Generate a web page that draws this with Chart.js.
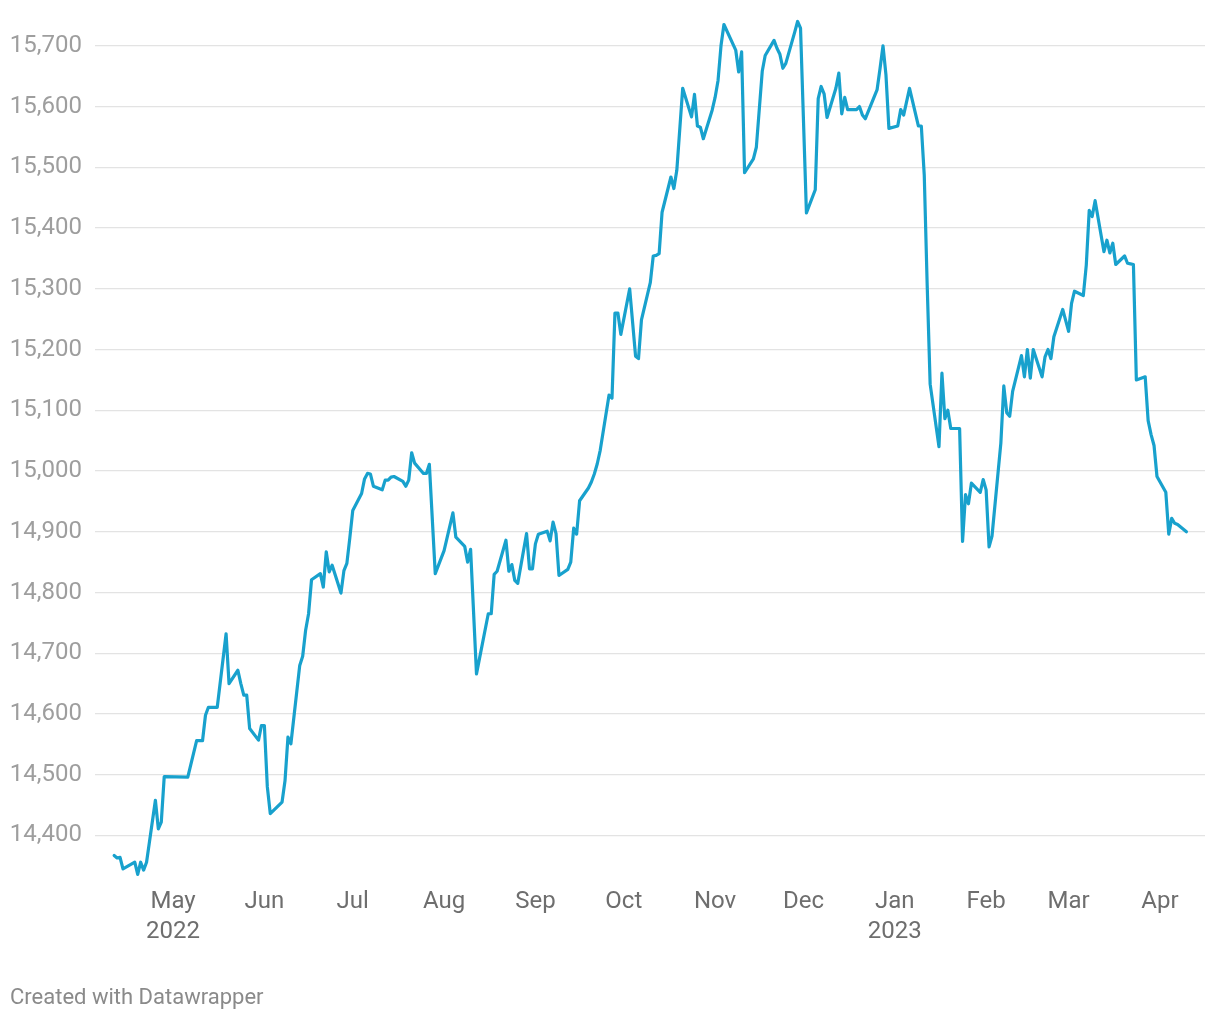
<!DOCTYPE html>
<html>
<head>
<meta charset="utf-8">
<script src="https://cdn.jsdelivr.net/npm/chart.js@4/dist/chart.umd.min.js"></script>
<style>
  html, body { margin: 0; padding: 0; background: #ffffff; }
  #wrap { position: relative; width: 1220px; height: 1020px; }
  #c { display: block; }
  #footer { position: absolute; left: 10px; top: 984px; font-family: Roboto, "Noto Sans", sans-serif; font-size: 22px; color: #8a8a8a; }
</style>
</head>
<body>
<div id="wrap">
  <canvas id="c" width="1220" height="1020"></canvas>
  <div id="footer">Created with Datawrapper</div>
</div>
<script>
// ---- data ----
const dates = [
  '2022-04-11','2022-04-12','2022-04-13','2022-04-14','2022-04-18','2022-04-19','2022-04-20','2022-04-21','2022-04-22',
  '2022-04-25','2022-04-26','2022-04-27','2022-04-28','2022-05-06','2022-05-09','2022-05-10','2022-05-11','2022-05-12',
  '2022-05-13','2022-05-16','2022-05-19','2022-05-20','2022-05-23','2022-05-24','2022-05-25','2022-05-26','2022-05-27',
  '2022-05-30','2022-05-31','2022-06-01','2022-06-02','2022-06-03','2022-06-07','2022-06-08','2022-06-09','2022-06-10',
  '2022-06-13','2022-06-14','2022-06-15','2022-06-16','2022-06-17','2022-06-20','2022-06-21','2022-06-22','2022-06-23',
  '2022-06-24','2022-06-27','2022-06-28','2022-06-29','2022-06-30','2022-07-01','2022-07-04','2022-07-05','2022-07-06',
  '2022-07-07','2022-07-08','2022-07-11','2022-07-12','2022-07-13','2022-07-14','2022-07-15','2022-07-18','2022-07-19',
  '2022-07-20','2022-07-21','2022-07-22','2022-07-25','2022-07-26','2022-07-27','2022-07-29','2022-08-01','2022-08-04',
  '2022-08-05','2022-08-08','2022-08-09','2022-08-10','2022-08-12','2022-08-16','2022-08-17','2022-08-18','2022-08-19',
  '2022-08-22','2022-08-23','2022-08-24','2022-08-25','2022-08-26','2022-08-29','2022-08-30','2022-08-31','2022-09-01',
  '2022-09-02','2022-09-05','2022-09-06','2022-09-07','2022-09-08','2022-09-09','2022-09-12','2022-09-13','2022-09-14',
  '2022-09-15','2022-09-16','2022-09-19','2022-09-20','2022-09-21','2022-09-22','2022-09-23','2022-09-26','2022-09-27',
  '2022-09-28','2022-09-29','2022-09-30','2022-10-03','2022-10-05','2022-10-06','2022-10-07','2022-10-10','2022-10-11',
  '2022-10-12','2022-10-13','2022-10-14','2022-10-17','2022-10-18','2022-10-19','2022-10-21','2022-10-24','2022-10-25',
  '2022-10-26','2022-10-27','2022-10-28','2022-10-31','2022-11-01','2022-11-02','2022-11-03','2022-11-04','2022-11-08',
  '2022-11-09','2022-11-10','2022-11-11','2022-11-14','2022-11-15','2022-11-17','2022-11-18','2022-11-21','2022-11-22',
  '2022-11-23','2022-11-24','2022-11-25','2022-11-28','2022-11-29','2022-11-30','2022-12-02','2022-12-05','2022-12-06',
  '2022-12-07','2022-12-08','2022-12-09','2022-12-12','2022-12-13','2022-12-14','2022-12-15','2022-12-16','2022-12-19',
  '2022-12-20','2022-12-21','2022-12-22','2022-12-26','2022-12-27','2022-12-28','2022-12-29','2022-12-30','2023-01-02',
  '2023-01-03','2023-01-04','2023-01-06','2023-01-09','2023-01-10','2023-01-11','2023-01-12','2023-01-13','2023-01-16',
  '2023-01-17','2023-01-18','2023-01-19','2023-01-20','2023-01-23','2023-01-24','2023-01-25','2023-01-26','2023-01-27',
  '2023-01-30','2023-01-31','2023-02-01','2023-02-02','2023-02-03','2023-02-06','2023-02-07','2023-02-08','2023-02-09',
  '2023-02-10','2023-02-13','2023-02-14','2023-02-15','2023-02-16','2023-02-17','2023-02-20','2023-02-21','2023-02-22',
  '2023-02-23','2023-02-24','2023-02-27','2023-03-01','2023-03-02','2023-03-03','2023-03-06','2023-03-07','2023-03-08',
  '2023-03-09','2023-03-10','2023-03-13','2023-03-14','2023-03-15','2023-03-16','2023-03-17','2023-03-20','2023-03-21',
  '2023-03-22','2023-03-23','2023-03-24','2023-03-27','2023-03-28','2023-03-29','2023-03-30','2023-03-31','2023-04-03',
  '2023-04-04','2023-04-05','2023-04-06','2023-04-07','2023-04-10'
];
const values = [
  14367,14363,14364,14345,14356,14336,14356,14343,14356,
  14458,14411,14422,14497,14496,14556,14556,14556,14598,
  14611,14611,14732,14650,14672,14650,14631,14631,14576,
  14557,14581,14581,14480,14436,14455,14490,14562,14551,
  14680,14695,14738,14765,14821,14831,14809,14867,14834,
  14845,14799,14836,14848,14890,14935,14963,14987,14996,
  14995,14975,14969,14985,14985,14990,14991,14983,14975,
  14985,15030,15013,14996,14996,15011,14831,14869,14931,
  14891,14876,14850,14871,14666,14765,14765,14830,14835,
  14886,14835,14846,14820,14815,14897,14839,14839,14880,
  14896,14901,14885,14916,14897,14828,14838,14850,14906,
  14896,14951,14972,14982,14995,15012,15034,15125,15120,
  15260,15260,15225,15300,15189,15185,15249,15310,15354,
  15355,15358,15426,15484,15465,15495,15630,15583,15620,
  15568,15566,15547,15594,15615,15643,15700,15735,15693,
  15657,15690,15491,15514,15533,15658,15684,15709,15696,
  15686,15663,15671,15722,15740,15729,15425,15463,15613,
  15633,15621,15582,15630,15655,15588,15615,15595,15595,
  15600,15586,15580,15628,15663,15700,15652,15564,15568,
  15595,15586,15630,15568,15568,15487,15305,15143,15040,
  15161,15086,15100,15070,15070,14884,14961,14946,14980,
  14965,14986,14969,14875,14893,15046,15140,15096,15090,
  15131,15190,15155,15200,15153,15200,15155,15188,15200,
  15185,15221,15266,15230,15276,15296,15289,15339,15429,
  15419,15445,15361,15380,15359,15375,15340,15354,15342,
  15341,15340,15150,15155,15083,15060,15042,14991,14965,
  14896,14922,14914,14912,14900
];
const xTickDates = ['2022-05-01','2022-06-01','2022-07-01','2022-08-01','2022-09-01','2022-10-01',
                    '2022-11-01','2022-12-01','2023-01-01','2023-02-01','2023-03-01','2023-04-01'];
const xTickLabels = [['May','2022'],'Jun','Jul','Aug','Sep','Oct','Nov','Dec',['Jan','2023'],'Feb','Mar','Apr'];
const yTicks = [14400,14500,14600,14700,14800,14900,15000,15100,15200,15300,15400,15500,15600,15700];

// ---- helpers ----
const BASE = Date.UTC(2022, 4, 1);
function dayOf(s) {
  const p = s.split('-').map(Number);
  return (Date.UTC(p[0], p[1] - 1, p[2]) - BASE) / 86400000;
}
const points = dates.map((d, i) => ({ x: dayOf(d), y: values[i] }));

const FONT = 'Roboto, "Noto Sans", sans-serif';

new Chart(document.getElementById('c'), {
  type: 'line',
  data: {
    datasets: [{
      data: points,
      borderColor: '#18a1cd',
      borderWidth: 3.2,
      pointRadius: 0,
      pointHoverRadius: 0,
      tension: 0,
      fill: false,
      borderJoinStyle: 'round',
      borderCapStyle: 'round',
      clip: 8
    }]
  },
  options: {
    responsive: false,
    animation: false,
    events: [],
    layout: { padding: { top: 21.5, right: 15, bottom: 0, left: 0 } },
    plugins: { legend: { display: false }, tooltip: { enabled: false }, title: { display: false } },
    scales: {
      x: {
        type: 'linear',
        min: -26.5,
        max: 350.3,
        grid: { display: false, drawTicks: false },
        border: { display: false },
        afterBuildTicks: (scale) => { scale.ticks = xTickDates.map(s => ({ value: dayOf(s) })); },
        afterFit: (scale) => { scale.height = 142; scale.paddingLeft = 0; scale.paddingRight = 0; },
        ticks: {
          autoSkip: false,
          maxRotation: 0,
          minRotation: 0,
          padding: 8.5,
          color: '#6e6e6e',
          font: { family: FONT, size: 24, lineHeight: 1.25 },
          callback: (v, i) => xTickLabels[i]
        }
      },
      y: {
        type: 'linear',
        min: 14330,
        max: 15740,
        grid: { color: '#e3e3e3', lineWidth: 1.2, drawTicks: false },
        border: { display: false },
        afterBuildTicks: (scale) => { scale.ticks = yTicks.map(v => ({ value: v })); },
        afterFit: (scale) => { scale.width = 95; scale.paddingTop = 0; scale.paddingBottom = 0; },
        ticks: {
          padding: 13,
          color: '#9e9e9e',
          font: { family: FONT, size: 24 },
          callback: (v) => v.toLocaleString('en-US')
        }
      }
    }
  }
});
</script>
</body>
</html>
